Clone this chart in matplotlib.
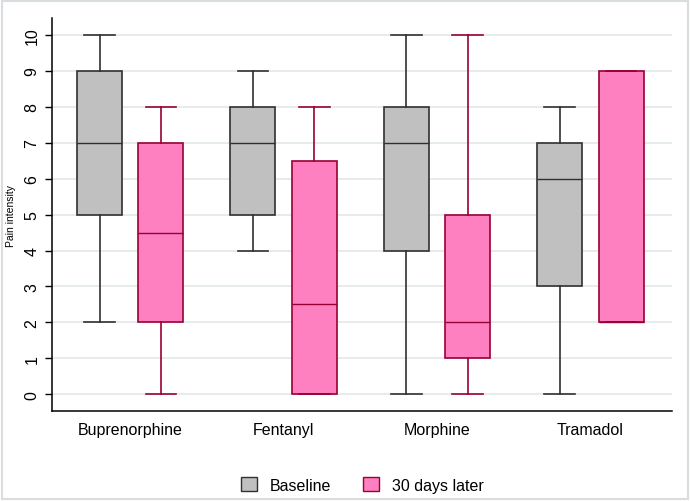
import matplotlib
matplotlib.use("Agg")
import matplotlib.pyplot as plt
from matplotlib.patches import Patch, Rectangle

plt.rcParams["font.family"] = ["Liberation Sans", "DejaVu Sans"]

drugs = ["Buprenorphine", "Fentanyl", "Morphine", "Tramadol"]

# box summaries: whisker low, q1, median, q3, whisker high
base_lo = [2, 4, 0, 0]
base_q1 = [5, 5, 4, 3]
base_med = [7, 7, 7, 6]
base_q3 = [9, 8, 8, 7]
base_hi = [10, 9, 10, 8]

later_lo = [0, 0, 0, 2]
later_q1 = [2, 0, 1, 2]
later_med = [4.5, 2.5, 2, 2]
later_q3 = [7, 6.5, 5, 9]
later_hi = [8, 8, 10, 9]

def make_stats(lo, q1, med, q3, hi):
    return [dict(whislo=a, q1=b, med=c, q3=d, whishi=e, fliers=[])
            for a, b, c, d, e in zip(lo, q1, med, q3, hi)]

fig = plt.figure(figsize=(6.9, 5.02), dpi=100)
ax = fig.add_axes([0.0754, 0.179, 0.898, 0.783])

centers = list(range(1, len(drugs) + 1))
off = 0.2

def draw(stats, pos, face, edge):
    ax.bxp(stats, positions=pos, widths=0.293, capwidths=0.2, showfliers=False,
           patch_artist=True, manage_ticks=False,
           boxprops=dict(facecolor=face, edgecolor=edge, linewidth=1.2),
           medianprops=dict(color=edge, linewidth=1.0),
           whiskerprops=dict(color=edge, linewidth=1.2),
           capprops=dict(color=edge, linewidth=1.2), zorder=3)

draw(make_stats(base_lo, base_q1, base_med, base_q3, base_hi),
     [c - off for c in centers], "#c0c0c0", "#303030")
draw(make_stats(later_lo, later_q1, later_med, later_q3, later_hi),
     [c + off for c in centers], "#ff80c0", "#990033")

ax.set_xlim(0.49, 4.53)
ax.set_ylim(-0.47, 10.47)
ax.set_xticks(centers)
ax.set_xticklabels(drugs, fontsize=11.5)
ax.tick_params(axis="x", length=0, pad=8)
ax.set_yticks(range(0, 11))
ax.set_yticklabels([str(v) for v in range(0, 11)], rotation=90, va="center", fontsize=11.5)
ax.tick_params(axis="y", length=5, width=1, pad=4)
ax.set_ylabel("Pain intensity", fontsize=7.5, labelpad=6)

ax.grid(axis="y", color="#e1e7ea", linewidth=1.2, zorder=0)
ax.set_axisbelow(True)
for side in ["top", "right"]:
    ax.spines[side].set_visible(False)
ax.spines["left"].set_linewidth(1.1)
ax.spines["bottom"].set_linewidth(1.1)

handles = [Patch(facecolor="#c0c0c0", edgecolor="#303030", label="Baseline"),
           Patch(facecolor="#ff80c0", edgecolor="#990033", label="30 days later")]
fig.legend(handles=handles, loc="center", bbox_to_anchor=(0.525, 0.032), ncol=2,
           frameon=False, fontsize=11.5, handlelength=1.0, handleheight=1.0,
           columnspacing=2.0, handletextpad=0.8)

fig.patches.append(Rectangle((0.003, 0.004), 0.994, 0.992, transform=fig.transFigure,
                             fill=False, edgecolor="#d8dde0", linewidth=1.5))

fig.savefig("out.png", dpi=100)
